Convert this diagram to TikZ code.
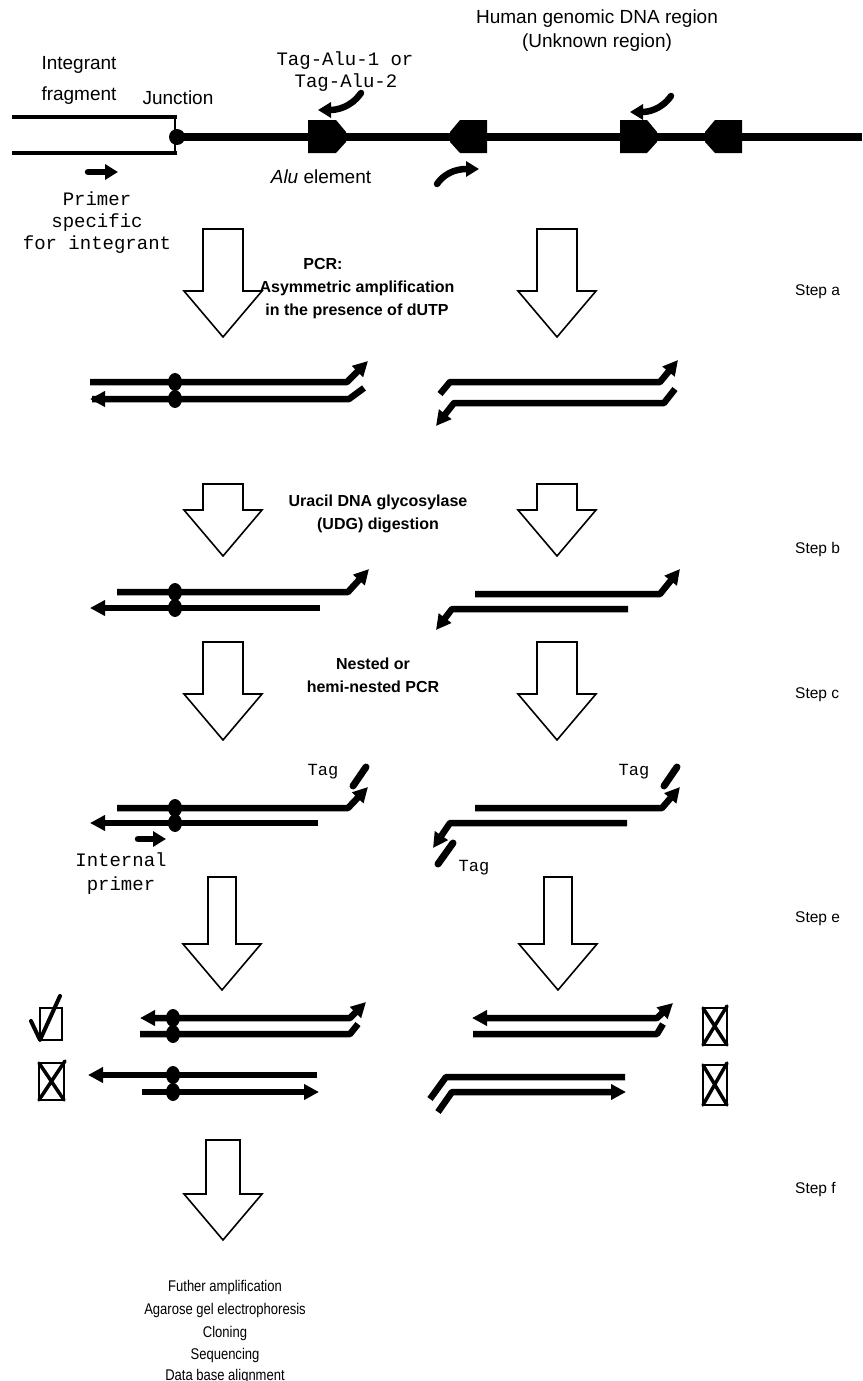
\documentclass[tikz,border=0pt]{standalone}
\usepackage{fontspec}
\setmainfont{Liberation Sans}
\newfontfamily\monof{Liberation Mono}
\newfontfamily\narrowf[FakeStretch=0.84]{Liberation Sans}
\usetikzlibrary{arrows.meta}

% hollow block arrow: centre x, top y, tip y, shaft half width, head half width
\newcommand\hollowarrow[5]{%
  \draw[hollow] (#1-#4,#2) -- (#1+#4,#2) -- (#1+#4,#3-46) -- (#1+#5,#3-46)
    -- (#1,#3) -- (#1-#5,#3-46) -- (#1-#4,#3-46) -- cycle;}
% dot marking the junction on a strand
\newcommand\junc[2]{\fill (#1,#2) ellipse [x radius=7pt, y radius=9pt];}

\begin{document}
\begin{tikzpicture}[x=1pt,y=-1pt,
  strand/.style={line width=6.5pt, line cap=butt, line join=round},
  tip/.style={-{Triangle[length=15pt,width=15pt]}},
  tipboth/.style={{Triangle[length=15pt,width=15pt]}-{Triangle[length=15pt,width=15pt]}},
  primer/.style={line width=6.5pt, line cap=round, -{Triangle[length=13pt,width=15pt]}},
  tagp/.style={line width=7pt, line cap=round},
  hollow/.style={draw, line width=1.6pt, fill=white, line join=miter},
  lbl/.style={font=\fontsize{19}{21}\selectfont, inner sep=0, anchor=base},
  mono/.style={font=\monof\fontsize{19}{21}\selectfont, inner sep=0, anchor=base},
  tagl/.style={font=\monof\fontsize{17}{19}\selectfont, inner sep=0, anchor=base},
  mid/.style={font=\bfseries\fontsize{16}{18}\selectfont, inner sep=0, anchor=base},
  stepl/.style={font=\fontsize{15.5}{17}\selectfont, inner sep=0, anchor=base west},
  foot/.style={font=\narrowf\fontsize{15.5}{17}\selectfont, inner sep=0, anchor=base},
  box/.style={line width=1.5pt},
  cross/.style={line width=3.5pt, line cap=round}]

\useasboundingbox (0,0) rectangle (862,1381);
\fill[white] (0,0) rectangle (862,1381);

% ---------- genomic region with the integrated fragment ----------
\draw[line width=4.5pt] (12,117) -- (177,117);
\draw[line width=4.5pt] (12,153) -- (177,153);
\draw[line width=2pt] (175,117) -- (175,153);
\draw[line width=8pt] (178,137) -- (862,137);
\fill (177,137) circle [radius=8pt];
% Alu elements
\fill (308,120) -- (336,120) -- (346,132) -- (346,142) -- (336,153) -- (308,153) -- cycle;
\fill (450,132) -- (460,120) -- (487,120) -- (487,153) -- (460,153) -- (450,142) -- cycle;
\fill (620,120) -- (647,120) -- (657,132) -- (657,142) -- (647,153) -- (620,153) -- cycle;
\fill (705,132) -- (715,120) -- (742,120) -- (742,153) -- (715,153) -- (705,142) -- cycle;
% primers
\draw[primer] (361,93) to[out=-125,in=0] (318,110);
\draw[primer] (437,184) to[out=55,in=180] (479,169);
\draw[primer] (671,96) to[out=-125,in=0] (630,112);
\draw[primer] (88,172) -- (118,172);

\node[lbl] (int1) at (79,70) {Integrant};
\node[lbl] (int2) at (79,100) {fragment};
\node[lbl] (junc) at (178,104) {Junction};
\node[mono] (tag1) at (345,66) {Tag-Alu-1 or};
\node[mono] (tag2) at (346,88) {Tag-Alu-2};
\node[lbl] (alu) at (321,183) {\textit{Alu} element};
\node[lbl] (hum1) at (597,24) {Human genomic DNA region};
\node[lbl] (hum2) at (597,48) {(Unknown region)};
\node[mono] (pr1) at (97,205) {Primer};
\node[mono] (pr2) at (97,227) {specific};
\node[mono] (pr3) at (97,249) {for integrant};

% ---------- step a ----------
\hollowarrow{223}{229}{337}{20}{39}
\hollowarrow{557}{229}{337}{20}{39}
\node[mid] (pcr1) at (323,269) {PCR:};
\node[mid] (pcr2) at (357,292) {Asymmetric amplification};
\node[mid] (pcr3) at (357,315) {in the presence of dUTP};
\node[stepl] (sa) at (795,295) {Step a};

\draw[strand,tip] (90,382) -- (347,382) -- (368,361);
\draw[strand] (364,388) -- (349,399) -- (92,399);
\draw[strand,tip] (110,399) -- (90,399);
\junc{175}{382}\junc{175}{399}
\draw[strand,tip] (440,394) -- (450,382) -- (660,382) -- (678,360);
\draw[strand,tip] (675,389) -- (664,403) -- (454,403) -- (436,426);

% ---------- step b ----------
\hollowarrow{223}{484}{556}{20}{39}
\hollowarrow{557}{484}{556}{20}{39}
\node[mid] (udg1) at (378,506) {Uracil DNA glycosylase};
\node[mid] (udg2) at (378,529) {(UDG) digestion};
\node[stepl] (sb) at (795,553) {Step b};

\draw[strand,tip] (117,592) -- (348,592) -- (369,569);
\draw[strand,tip] (320,608) -- (90,608);
\junc{175}{592}\junc{175}{608}
\draw[strand,tip] (475,594) -- (660,594) -- (680,569);
\draw[strand,tip] (628,609) -- (452,609) -- (436,630);

% ---------- step c ----------
\hollowarrow{223}{642}{740}{20}{39}
\hollowarrow{557}{642}{740}{20}{39}
\node[mid] (nest1) at (373,669) {Nested or};
\node[mid] (nest2) at (373,692) {hemi-nested PCR};
\node[stepl] (sc) at (795,698) {Step c};

\draw[strand,tip] (117,808) -- (348,808) -- (368,787);
\draw[tagp] (353,786) -- (366,767);
\node[tagl] (tagL) at (323,775) {Tag};
\draw[strand,tip] (318,823) -- (90,823);
\junc{175}{808}\junc{175}{823}
\draw[primer] (138,839) -- (166,839);
\node[mono] (ip1) at (121,866) {Internal};
\node[mono] (ip2) at (121,890) {primer};

\draw[strand,tip] (475,808) -- (662,808) -- (680,787);
\draw[tagp] (664,786) -- (677,767);
\node[tagl] (tagR) at (634,775) {Tag};
\draw[strand,tip] (627,823) -- (450,823) -- (433,848);
\draw[tagp] (438,864) -- (453,843);
\node[tagl] (tagB) at (474,871) {Tag};

% ---------- step e ----------
\hollowarrow{222}{877}{990}{14}{39}
\hollowarrow{558}{877}{990}{14}{39}
\node[stepl] (se) at (795,922) {Step e};

\draw[strand,tipboth] (140,1018) -- (350,1018) -- (366,1002);
\draw[strand] (140,1034) -- (350,1034) -- (358,1024);
\junc{173}{1018}\junc{173}{1034}
\draw[strand,tip] (317,1075) -- (88,1075);
\draw[strand,tip] (142,1092) -- (319,1092);
\junc{173}{1075}\junc{173}{1092}

\draw[strand,tipboth] (472,1018) -- (657,1018) -- (673,1003);
\draw[strand] (473,1034) -- (657,1034) -- (663,1024);
\draw[strand] (625,1077) -- (446,1077) -- (430,1099);
\draw[strand,tip] (438,1112) -- (452,1092) -- (626,1092);

% result marks
\draw[box] (40,1008) rectangle (62,1040);
\draw[line width=4pt, line cap=round, line join=round] (31,1021) -- (40,1040) -- (60,996);
\draw[box] (39,1063) rectangle (64,1100);
\draw[cross] (39,1063) -- (64,1100) (65,1061) -- (39,1100);
\draw[box] (703,1008) rectangle (727,1045);
\draw[cross] (703,1008) -- (727,1045) (727,1006) -- (703,1045);
\draw[box] (703,1065) rectangle (727,1105);
\draw[cross] (703,1065) -- (727,1105) (727,1063) -- (703,1105);

% ---------- step f ----------
\hollowarrow{223}{1140}{1240}{17}{39}
\node[stepl] (sf) at (795,1193) {Step f};
\node[foot] (f1) at (225,1291) {Futher amplification};
\node[foot] (f2) at (225,1314) {Agarose gel electrophoresis};
\node[foot] (f3) at (225,1337) {Cloning};
\node[foot] (f4) at (225,1359) {Sequencing};
\node[foot] (f5) at (225,1380) {Data base alignment};
\end{tikzpicture}
\end{document}
